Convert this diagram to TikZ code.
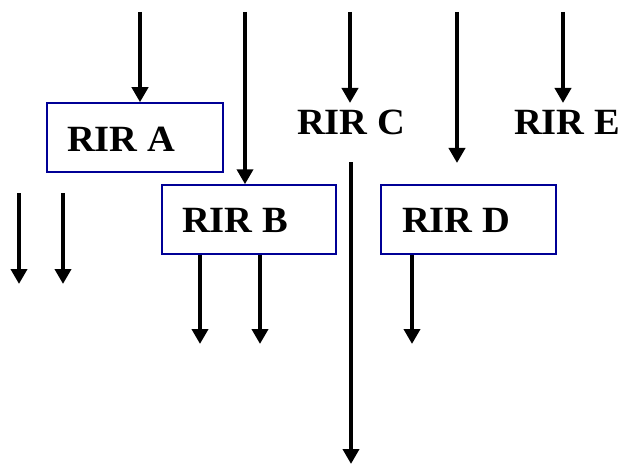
\documentclass[tikz,border=0pt]{standalone}
\usepackage{fontspec}
\setmainfont{Liberation Serif}
\usetikzlibrary{arrows.meta}
\definecolor{boxblue}{RGB}{0,0,150}
\begin{document}
\begin{tikzpicture}[x=1pt,y=-1pt,
  rirbox/.style={draw=boxblue,line width=1.5pt,fill=white,inner sep=0pt},
  rirtext/.style={anchor=base west,inner sep=0pt,font=\fontsize{37}{37}\selectfont\bfseries},
  flow/.style={line width=4.5pt,-{Triangle[width=16pt,length=15pt]}}]
\useasboundingbox (0,0) rectangle (628,465);
% boxes
\node[rirbox,minimum width=176pt,minimum height=69pt] (boxA) at (135,137.5) {};
\node[rirbox,minimum width=174pt,minimum height=69pt] (boxB) at (249,219.5) {};
\node[rirbox,minimum width=175pt,minimum height=69pt] (boxD) at (468.5,219.5) {};
% labels
\node[rirtext] (labA) at (67,151) {\scalebox{1.04}[1]{RIR A}};
\node[rirtext] (labB) at (182,232) {\scalebox{1.04}[1]{RIR B}};
\node[rirtext] (labC) at (297,135) {\scalebox{1.04}[1]{RIR C}};
\node[rirtext] (labD) at (402,232) {\scalebox{1.04}[1]{RIR D}};
\node[rirtext] (labE) at (514,135) {\scalebox{1.04}[1]{RIR E}};
% free ends
\coordinate (s1) at (140,12);
\coordinate (s2) at (245,12);
\coordinate (s3) at (350,12);
\coordinate (s4) at (457,12);
\coordinate (s5) at (563,12);
\coordinate (e3) at (350,103);
\coordinate (e4) at (457,163);
\coordinate (e5) at (563,103);
\coordinate (l1s) at (19,193);
\coordinate (l1e) at (19,284);
\coordinate (l2s) at (63,193);
\coordinate (l2e) at (63,284);
\coordinate (b1e) at (200,344);
\coordinate (b2e) at (260,344);
\coordinate (d1e) at (412,344);
\coordinate (cs) at (351,162);
\coordinate (ce) at (351,464);
% connectors
\draw[flow] (s1) -- (s1 |- boxA.north);
\draw[flow] (s2) -- (s2 |- boxB.north);
\draw[flow] (s3) -- (e3);
\draw[flow] (s4) -- (e4);
\draw[flow] (s5) -- (e5);
\draw[flow] (l1s) -- (l1e);
\draw[flow] (l2s) -- (l2e);
\draw[flow] (b1e |- boxB.south) -- (b1e);
\draw[flow] (b2e |- boxB.south) -- (b2e);
\draw[flow] (d1e |- boxD.south) -- (d1e);
\draw[flow] (cs) -- (ce);
\end{tikzpicture}
\end{document}
